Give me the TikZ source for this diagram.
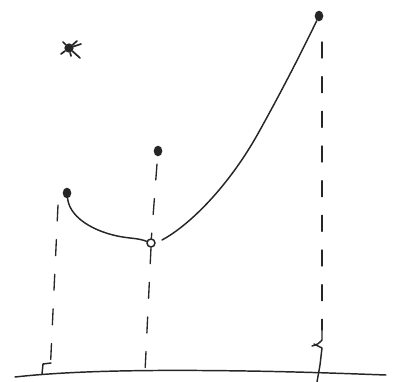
\documentclass[tikz,border=0pt]{standalone}
\usetikzlibrary{shapes.geometric}
\begin{document}
\begin{tikzpicture}[x=0.75pt,y=-0.75pt,
  ink/.style={line width=1.1pt,line cap=round,line join=round,black!85},
  dashln/.style={ink,line width=1pt,dash pattern=on 12pt off 14pt},
  dotf/.style={ellipse,fill=black!85,inner sep=0pt,minimum width=6.5pt,minimum height=8pt},
  doto/.style={circle,draw=black!85,line width=1.1pt,inner sep=0pt,minimum size=6pt}]
\useasboundingbox (0,0) rectangle (397,382);
% points
\node[dotf] (a) at (67,193) {};
\node[dotf] (b) at (158,151) {};
\node[dotf] (c) at (319,16) {};
\node[doto] (o) at (151,243) {};
\coordinate (a1) at (58,205);
\coordinate (a2) at (50,375);
\coordinate (b1) at (157,164);
\coordinate (b2) at (145,372);
\coordinate (c1) at (322,42);
\coordinate (c2) at (320,382);
% axis
\draw[ink] (15,377) .. controls (60,372) and (120,370) .. (200,370.5) .. controls (280,371) and (330,373) .. (386,375);
% tick at left
\draw[ink] (42,374) -- (43,364) -- (51,363);
% dashed verticals
\draw[dashln] (a1) -- (a2);
\draw[dashln] (b1) -- (o);
\draw[dashln] (o.south) -- (b2);
\draw[dashln] (c1) -- (322,330);
\draw[ink] (322,330) -- (322,340) .. controls (320,342) and (318,345) .. (312,346);
\draw[ink] (314,344) -- (322,348) -- (320,365) -- (317,382);
% curves
\draw[ink] (a) .. controls (70,220) and (100,235) .. (130,238) .. controls (140,239) and (143,240) .. (o);
\draw[ink] (162,240) .. controls (190,225) and (230,185) .. (260,130) .. controls (285,85) and (305,45) .. (c);
% star
\node[circle,fill=black!85,inner sep=0pt,minimum size=7pt] (s) at (69,48) {};
\draw[ink,line width=1.3pt] (s) -- (61,54) (s) -- (63,42) (s) -- (77,41) (s) -- (80,58) (s) -- (71,56) (s) -- (81,44);
\end{tikzpicture}
\end{document}
